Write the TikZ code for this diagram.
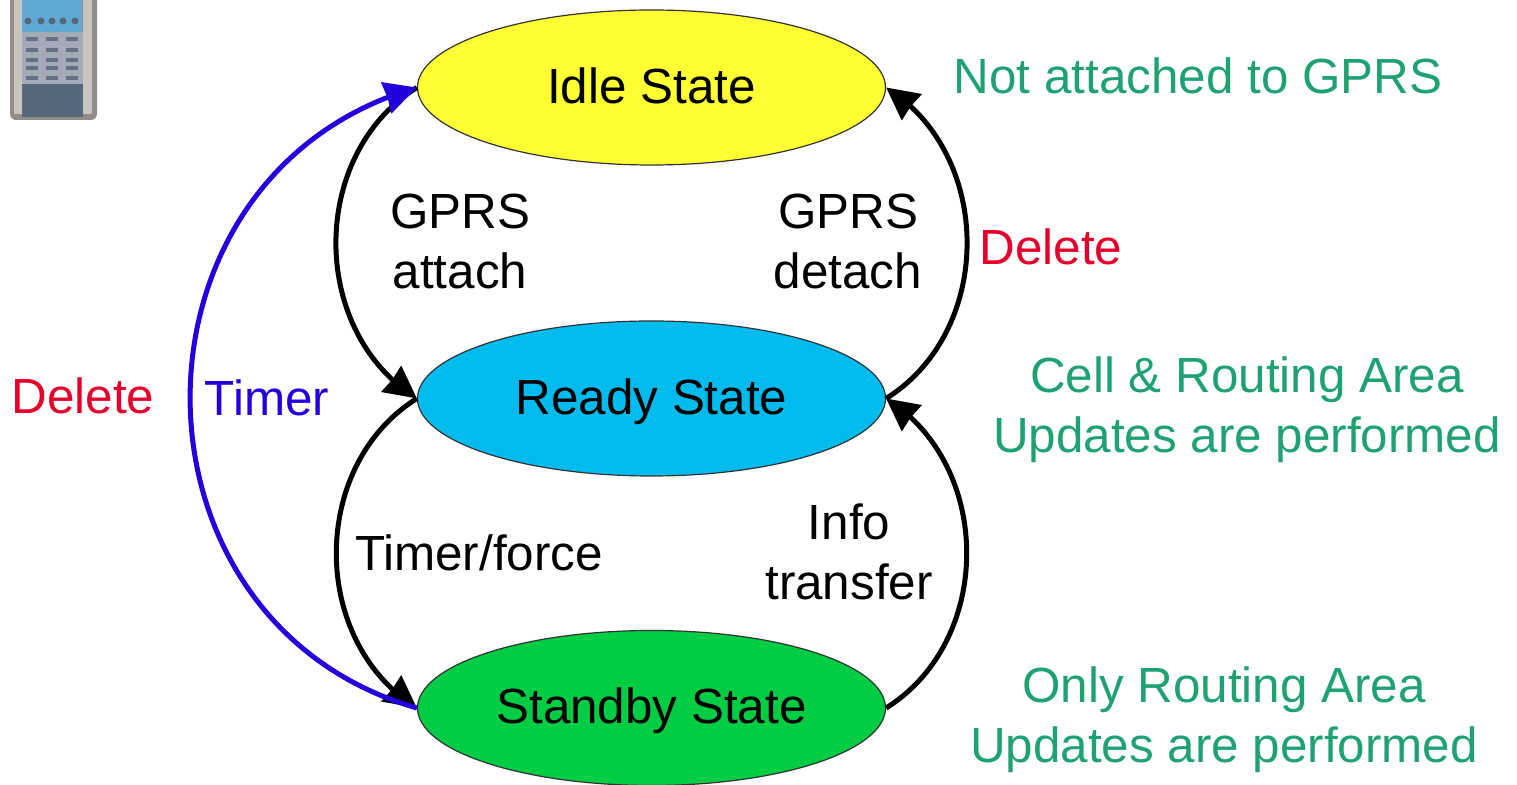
\documentclass[tikz,border=0pt]{standalone}
\usepackage{fontspec}
\setmainfont{Liberation Sans}
\usetikzlibrary{arrows.meta,bending,shapes.geometric}
\definecolor{idleyellow}{HTML}{FFFF33}
\definecolor{readycyan}{HTML}{00BBEE}
\definecolor{standbygreen}{HTML}{00CC44}
\definecolor{notegreen}{HTML}{1FA272}
\definecolor{deletered}{HTML}{E4002B}
\definecolor{timerblue}{HTML}{2200DD}
\definecolor{phonesilver}{HTML}{C9C4BE}
\definecolor{phoneside}{HTML}{8F8C8A}
\definecolor{phonepad}{HTML}{A4ABB8}
\definecolor{phonekey}{HTML}{667084}
\definecolor{phonebase}{HTML}{56687A}
\definecolor{phonescreen}{HTML}{5FA9D6}
\begin{document}
\begin{tikzpicture}[x=0.5pt,y=-0.5pt,
	statestyle/.style={ellipse,draw=black!80,line width=0.6pt,minimum width=234pt,minimum height=77.5pt,inner sep=0pt,text height=18pt,text depth=2pt},
	labelstyle/.style={align=center,font=\fontsize{24.7}{30}\selectfont},
	notestyle/.style={labelstyle,text=notegreen},
	deletestyle/.style={labelstyle,text=deletered},
	flowstyle/.style={line width=2.5pt,-{Stealth[length=16pt,width=16pt,inset=0.5pt,flex]}},
	timerstyle/.style={flowstyle,color=timerblue}]
\useasboundingbox (0,0) rectangle (1517,785);
% phone
\begin{scope}
\clip (0,0) rectangle (120,130);
\fill[rounded corners=3pt,phoneside] (10,-20) rectangle (97,120);
\fill[phonesilver] (14,0) rectangle (22,114);
\fill[phonesilver] (83,0) rectangle (92,114);
\fill[phonepad] (22,32) rectangle (83,84);
\fill[phonebase] (22,84) rectangle (83,117);
\fill[phonescreen] (22,0) rectangle (82,32);
\foreach \iconx in {28,41,52,63,75}
	\fill[phonebase] (\iconx,21) circle (3.5);
\foreach \keyy in {39,50,60,68,78}
	\foreach \keyx in {32,52,72}
		\fill[phonekey] (\keyx-6,\keyy-2) rectangle (\keyx+6,\keyy+2);
\end{scope}
% states
\node[statestyle,fill=idleyellow,labelstyle] (idle) at (651.5,87.5) {Idle State};
\node[statestyle,fill=readycyan,labelstyle] (ready) at (651.5,398.5) {Ready State};
\node[statestyle,fill=standbygreen,labelstyle] (standby) at (651.5,708) {Standby State};
% transitions
\draw[flowstyle] (idle.west) to[bend right=58,looseness=1.05] (ready.west);
\draw[flowstyle] (ready.east) to[bend right=58,looseness=1.05] (idle.east);
\draw[flowstyle] (ready.west) to[bend right=58,looseness=1.05] (standby.west);
\draw[flowstyle] (standby.east) to[bend right=58,looseness=1.05] (ready.east);
\draw[timerstyle] (standby.west) to[bend left=74,looseness=1.3] (idle.west);
% labels
\node[labelstyle] (attach) at (460,241) {GPRS\\attach};
\node[labelstyle] (detach) at (848,241) {GPRS\\detach};
\node[labelstyle] (timerforce) at (479,553) {Timer/force};
\node[labelstyle] (transfer) at (849,552) {Info\\transfer};
\node[labelstyle,text=timerblue] (timer) at (267,398) {Timer};
\node[deletestyle] (deleteleft) at (83,396) {Delete};
\node[deletestyle] (deleteright) at (1051,247) {Delete};
\node[notestyle] (idlenote) at (1198,76) {Not attached to GPRS};
\node[notestyle] (readynote) at (1247,410) {Cell \& Routing Area\\Updates are performed};
\node[notestyle] (standbynote) at (1224,720) {Only Routing Area\\Updates are performed};
\end{tikzpicture}
\end{document}
